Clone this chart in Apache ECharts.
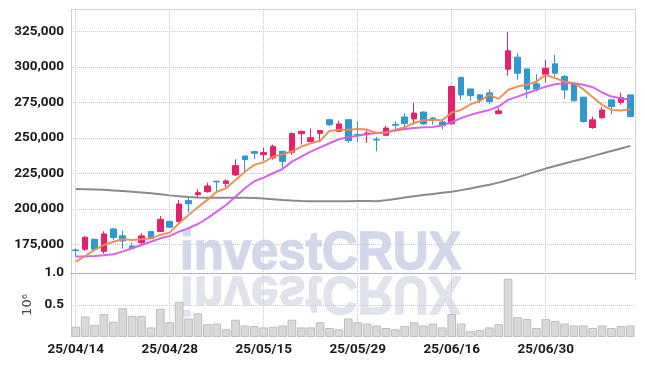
<!DOCTYPE html>
<html>
<head>
<meta charset="utf-8">
<script src="https://cdn.jsdelivr.net/npm/echarts@6/dist/echarts.min.js"></script>
<style>html,body{margin:0;padding:0;background:#fff;}#c{width:645px;height:366px;}</style>
</head>
<body>
<div id="c"></div>
<script>
const dates = ['25/04/14','25/04/15','25/04/16','25/04/17','25/04/18','25/04/21','25/04/22','25/04/23','25/04/24','25/04/25',
'25/04/28','25/04/29','25/04/30','25/05/02','25/05/07','25/05/08','25/05/09','25/05/12','25/05/13','25/05/14',
'25/05/15','25/05/16','25/05/19','25/05/20','25/05/21','25/05/22','25/05/23','25/05/26','25/05/27','25/05/28',
'25/05/29','25/05/30','25/06/02','25/06/04','25/06/05','25/06/09','25/06/10','25/06/11','25/06/12','25/06/13',
'25/06/16','25/06/17','25/06/18','25/06/19','25/06/20','25/06/23','25/06/24','25/06/25','25/06/26','25/06/27',
'25/06/30','25/07/01','25/07/02','25/07/03','25/07/04','25/07/07','25/07/08','25/07/09','25/07/10','25/07/11'];

const opens  = [171000,171500,178500,170000,185800,181000,173800,176100,184000,184000,
191200,191000,205800,210000,212100,219500,217800,223900,237300,240400,
238200,235900,240600,239900,253000,247400,253300,262900,254700,262900,
252500,252400,249000,251900,259600,264800,263400,268300,264100,261300,
260000,292600,284600,280400,281800,267200,298500,307000,298700,288200,
295000,302300,293300,288600,278800,257400,264400,276900,275200,280400];
const closes = [170500,179900,171500,182300,179700,177300,172200,180900,179000,192600,
187000,203400,203600,211400,216100,219000,219700,230500,234700,239200,
239700,244100,233500,253100,254700,250200,255200,259400,259900,248100,
252000,253500,248500,257000,259000,260100,267600,259900,262900,258700,
286300,280400,279900,276900,275700,269100,311500,295700,284400,284600,
299200,295700,283900,276200,261600,262800,269800,272200,278500,265100];
const lows   = [166300,170300,171000,168200,178000,171900,171900,175200,178500,183900,
186500,190200,197300,207500,211400,212400,215200,223200,225100,235000,
234000,234700,228800,238200,245300,247400,247200,258500,254200,246500,
247000,246500,240600,251500,255900,255900,259400,259400,259400,255900,
259500,276900,276200,274500,274000,266800,294000,291000,278000,282800,
289100,293300,277400,276000,260900,256400,263500,266800,273400,265000];
const highs  = [172200,180900,178800,184200,186500,184600,176100,182800,184300,195000,
191500,206300,207900,214000,218500,219600,220900,235000,237300,240800,
243000,245300,240600,254000,255200,256600,255600,262900,262200,263000,
261800,255900,250700,258700,261800,267600,274700,268800,264800,262500,
286800,293300,284600,281100,284400,271000,324600,309800,299000,295000,
305100,308600,294500,289300,278800,265100,271700,276900,282000,280400];

const ma5  = [162700,166700,171000,174500,176800,178500,178000,178500,179200,181600,
183200,189800,195700,201100,206300,212100,214500,220400,226200,231000,
232900,236800,238500,240400,243900,246300,248000,255000,255800,255800,
256400,255900,253500,253500,255900,257500,260600,262500,262900,262500,
268000,269800,273800,276200,280400,277600,283900,286300,287500,289800,
294500,292200,289800,288600,284400,278800,273400,269800,269400,270300];
const ma10 = [166300,166300,166700,167200,167900,169800,172200,174500,176800,179200,
180900,183900,186300,189300,193300,198000,202700,208600,214500,219500,
222000,225100,228100,233300,236800,240400,243400,246300,249100,250600,
251600,252800,253500,254200,255200,256400,257100,257500,257800,258900,
261300,264000,266300,268200,269800,272200,276900,279200,281600,283900,
286200,287900,288600,288600,287500,285800,282100,279200,278100,276900];
const maLong = [214000,213900,213700,213400,213000,212600,212100,211600,211000,210300,
209500,208800,208300,208000,207900,207800,207800,207800,207800,207600,
207300,206800,206300,205900,205600,205400,205300,205300,205300,205400,
205600,205450,205300,206000,207000,208000,208900,209700,210500,211300,
212100,213200,214400,215700,217000,218500,220300,222200,224300,226400,
228400,230200,232000,233700,235400,237200,239000,240800,242600,244400];

const volumes = [0.16,0.32,0.19,0.36,0.24,0.45,0.33,0.33,0.15,0.44,
0.23,0.55,0.29,0.37,0.20,0.21,0.12,0.27,0.18,0.17,
0.15,0.16,0.18,0.27,0.15,0.15,0.23,0.14,0.12,0.29,
0.23,0.21,0.18,0.14,0.12,0.17,0.23,0.18,0.21,0.15,
0.36,0.21,0.09,0.11,0.15,0.20,0.91,0.31,0.28,0.14,
0.28,0.25,0.21,0.18,0.18,0.14,0.18,0.14,0.17,0.18];

const priceTicks = {min:150000, max:341000, interval:25000};
const volTicks = {min:0, max:1, interval:0.5};

const candles = opens.map((o,i)=>[o, closes[i], lows[i], highs[i]]);
const FONT = "Roboto, 'Liberation Sans', sans-serif";
const gridColor = '#c9c9dc';
const labelEvery = (i)=> i % 10 === 0;
const wmFont = "bold 54px 'Liberation Sans', Arial, sans-serif";

const chart = echarts.init(document.getElementById('c'), null, {renderer:'canvas'});
chart.setOption({
  animation:false,
  backgroundColor:'#fff',
  grid:[
    {left:71, right:10, top:9, bottom:86.3},
    {left:71, right:10, top:273, bottom:29}
  ],
  graphic:[
    {type:'text', x:180, y:254, z:-10, scaleX:0.91,
     style:{text:'investCRUX', font:wmFont, fill:'#d2d7ea', stroke:'#d2d7ea', lineWidth:1.5, verticalAlign:'middle', align:'left'}},
    {type:'text', x:180, y:292, z:-10, scaleX:0.91, scaleY:-1,
     style:{text:'investCRUX', font:wmFont, fill:'#e1e3ec', stroke:'#e1e3ec', lineWidth:1.5, verticalAlign:'middle', align:'left'}}
  ],
  xAxis:[
    {type:'category', gridIndex:0, data:dates, boundaryGap:true,
     axisLine:{show:false}, axisTick:{show:false}, axisLabel:{show:false},
     splitLine:{show:true, interval:(i)=>labelEvery(i), alignWithLabel:true, lineStyle:{color:gridColor, type:'dotted'}}},
    {type:'category', gridIndex:1, data:dates, boundaryGap:true,
     axisLine:{show:false}, axisTick:{show:false},
     axisLabel:{interval:(i)=>labelEvery(i), fontFamily:FONT, fontSize:13.5, fontWeight:'bold', color:'#1a1a1a', margin:6},
     splitLine:{show:true, interval:(i)=>labelEvery(i), alignWithLabel:true, lineStyle:{color:gridColor, type:'dotted'}}},
    {type:'category', gridIndex:0, data:dates, position:'top',
     axisLine:{show:true, lineStyle:{color:'#d2d2d2'}}, axisTick:{show:false}, axisLabel:{show:false}, splitLine:{show:false}},
    {type:'category', gridIndex:1, data:dates, position:'top',
     axisLine:{show:true, lineStyle:{color:'#a0a0a8', type:'dotted'}}, axisTick:{show:false}, axisLabel:{show:false}, splitLine:{show:false}}
  ],
  yAxis:[
    {type:'value', gridIndex:0, min:priceTicks.min, max:priceTicks.max, interval:priceTicks.interval,
     axisLine:{show:true, lineStyle:{color:'#cfcfcf'}}, axisTick:{show:false},
     axisLabel:{showMinLabel:false, showMaxLabel:false, fontFamily:FONT, fontSize:13.5, fontWeight:'bold', color:'#1a1a1a', margin:7,
       formatter:(v)=>v.toLocaleString('en-US')},
     splitLine:{show:true, showMinLine:false, showMaxLine:false, lineStyle:{color:gridColor, type:'dotted'}}},
    {type:'value', gridIndex:1, min:volTicks.min, max:volTicks.max, interval:volTicks.interval,
     name:'10⁶', nameLocation:'middle', nameGap:27, nameRotate:90,
     nameTextStyle:{fontFamily:"'DejaVu Sans',sans-serif", fontSize:13, color:'#444'},
     axisLine:{show:true, lineStyle:{color:'#cfcfcf'}}, axisTick:{show:false},
     axisLabel:{fontFamily:FONT, fontSize:13.5, fontWeight:'bold', color:'#1a1a1a', margin:7,
       formatter:(v)=> v===0 ? '' : v.toFixed(1)},
     splitLine:{show:true, showMinLine:false, showMaxLine:false, lineStyle:{color:gridColor, type:'dotted'}}},
    {type:'value', gridIndex:0, position:'right', min:priceTicks.min, max:priceTicks.max,
     axisLine:{show:true, lineStyle:{color:'#d2d2d2'}}, axisTick:{show:false}, axisLabel:{show:false}, splitLine:{show:false}}
  ],
  series:[
    {type:'bar', xAxisIndex:1, yAxisIndex:1, data:volumes, barCategoryGap:'8%',
     itemStyle:{color:'#d9d9d9', borderColor:'#bdbdbd', borderWidth:1}},
    {type:'candlestick', xAxisIndex:0, yAxisIndex:0, data:candles, barWidth:6,
     itemStyle:{color:'#e5206d', color0:'#2f98ce', borderColor:'#e5206d', borderColor0:'#2f98ce', borderWidth:1}},
    {type:'line', xAxisIndex:0, yAxisIndex:0, data:maLong, symbol:'none', z:3,
     lineStyle:{color:'#8a8a8a', width:2}},
    {type:'line', xAxisIndex:0, yAxisIndex:0, data:ma10, symbol:'none', z:3,
     lineStyle:{color:'#d35ce8', width:2, opacity:0.95}},
    {type:'line', xAxisIndex:0, yAxisIndex:0, data:ma5, symbol:'none', z:3,
     lineStyle:{color:'#ee8a4f', width:2, opacity:0.95}}
  ]
});
</script>
</body>
</html>
